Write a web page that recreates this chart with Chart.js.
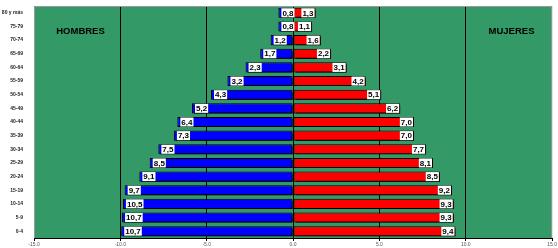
<!DOCTYPE html>
<html>
<head>
<meta charset="utf-8">
<script src="https://cdn.jsdelivr.net/npm/chart.js@4/dist/chart.umd.min.js"></script>
<style>
  html, body { margin: 0; padding: 0; background: #fff; }
  #wrap { width: 558px; height: 248px; }
</style>
</head>
<body>
<div id="wrap"><canvas id="piramide"></canvas></div>
<script>
// grupos de edad, de arriba abajo
const grupos = ['80 y más', '75-79', '70-74', '65-69', '60-64', '55-59', '50-54', '45-49', '40-44',
  '35-39', '30-34', '25-29', '20-24', '15-19', '10-14', '5-9', '0-4'];
// largo de las barras de hombres tal como se ven en el gráfico
const hombres = [0.85, 0.85, 1.3, 1.9, 2.75, 3.8, 4.75, 5.85, 6.7, 6.9, 7.8, 8.3, 8.9, 9.75, 9.85, 9.9, 9.95];
// rótulos impresos sobre las barras
const rotulosHombres = ['0,8', '0,8', '1,2', '1,7', '2,3', '3,2', '4,3', '5,2', '6,4', '7,3', '7,5', '8,5', '9,1', '9,7', '10,5', '10,7', '10,7'];
const mujeres = [1.3, 1.1, 1.6, 2.2, 3.1, 4.2, 5.1, 6.2, 7.0, 7.0, 7.7, 8.1, 8.5, 9.2, 9.3, 9.3, 9.4];
const rotulosMujeres = ['1,3', '1,1', '1,6', '2,2', '3,1', '4,2', '5,1', '6,2', '7,0', '7,0', '7,7', '8,1', '8,5', '9,2', '9,3', '9,3', '9,4'];
const ticksX = [-15, -10, -5, 0, 5, 10, 15];

const fondo = {
  id: 'fondo',
  beforeDraw(chart) {
    const { ctx, chartArea: a } = chart;
    ctx.save();
    ctx.fillStyle = '#339966';
    ctx.fillRect(a.left, a.top, a.right - a.left, a.bottom - a.top);
    ctx.restore();
  },
  afterDraw(chart) {
    const { ctx, chartArea: a } = chart;
    ctx.save();
    ctx.strokeStyle = '#999';
    ctx.lineWidth = 1;
    ctx.beginPath();
    ctx.moveTo(a.left + 0.5, a.bottom);
    ctx.lineTo(a.left + 0.5, a.top + 0.5);
    ctx.lineTo(a.right - 0.5, a.top + 0.5);
    ctx.lineTo(a.right - 0.5, a.bottom);
    ctx.stroke();
    ctx.strokeStyle = '#000';
    ctx.beginPath();
    ctx.moveTo(a.left, a.bottom + 0.5);
    ctx.lineTo(a.right, a.bottom + 0.5);
    ctx.stroke();
    ctx.fillStyle = '#000';
    ctx.font = 'bold 9.5px "Liberation Sans", Arial, sans-serif';
    ctx.textAlign = 'center';
    ctx.textBaseline = 'middle';
    ctx.fillText('HOMBRES', 80.5, 31);
    ctx.fillText('MUJERES', 511.5, 31);
    ctx.restore();
  }
};

const sombra = {
  id: 'sombra',
  beforeDatasetsDraw(chart) {
    const ctx = chart.ctx;
    ctx.save();
    ctx.shadowColor = '#000';
    ctx.shadowOffsetX = 2;
    ctx.shadowOffsetY = 2;
    ctx.shadowBlur = 0;
  },
  afterDatasetsDraw(chart) {
    chart.ctx.restore();
  }
};

const rotulos = {
  id: 'rotulos',
  afterDatasetsDraw(chart) {
    const ctx = chart.ctx;
    ctx.save();
    ctx.font = 'bold 8px "Liberation Sans", Arial, sans-serif';
    ctx.textBaseline = 'middle';
    ctx.textAlign = 'center';
    chart.data.datasets.forEach((ds, i) => {
      const meta = chart.getDatasetMeta(i);
      meta.data.forEach((el, j) => {
        const txt = ds.rotulos[j];
        const w = ctx.measureText(txt).width + 2;
        const h = 9;
        let x;
        if (ds.data[j] < 0) {
          x = el.x + 3;
        } else {
          x = el.x - 1 - w;
        }
        ctx.fillStyle = '#fff';
        ctx.fillRect(x, el.y - h / 2, w, h);
        ctx.fillStyle = '#000';
        ctx.fillText(txt, x + w / 2, el.y + 0.5);
      });
    });
    ctx.restore();
  }
};

new Chart(document.getElementById('piramide'), {
  type: 'bar',
  data: {
    labels: grupos,
    datasets: [
      {
        label: 'Hombres',
        data: hombres.map(v => -v),
        rotulos: rotulosHombres,
        backgroundColor: '#0000ff',
        borderColor: '#000',
        borderWidth: 1,
        borderSkipped: false
      },
      {
        label: 'Mujeres',
        data: mujeres,
        rotulos: rotulosMujeres,
        backgroundColor: '#ff0000',
        borderColor: '#000',
        borderWidth: 1,
        borderSkipped: false
      }
    ]
  },
  options: {
    indexAxis: 'y',
    responsive: true,
    maintainAspectRatio: false,
    animation: false,
    layout: { padding: { top: 6, right: 5, left: 0, bottom: 0 } },
    datasets: { bar: { barPercentage: 0.74, categoryPercentage: 1 } },
    plugins: { legend: { display: false }, tooltip: { enabled: false } },
    scales: {
      x: {
        stacked: true,
        min: -15,
        max: 15,
        afterBuildTicks(scale) { scale.ticks = ticksX.map(v => ({ value: v })); },
        afterFit(scale) { scale.height = 10; },
        border: { display: false },
        grid: {
          color: c => (Math.abs(c.tick.value) === 15 ? 'rgba(0,0,0,0)' : '#000'),
          tickColor: '#000',
          tickLength: 3,
          lineWidth: 1
        },
        ticks: {
          padding: 1,
          maxRotation: 0,
          color: '#555',
          font: { family: '"Liberation Sans", Arial, sans-serif', size: 5 },
          callback: v => v.toFixed(1)
        }
      },
      y: {
        stacked: true,
        afterFit(scale) { scale.width = 34; },
        border: { display: false },
        grid: { display: false },
        ticks: {
          padding: 3,
          color: '#222',
          font: { family: '"Liberation Sans", Arial, sans-serif', size: 5, weight: 'bold' }
        }
      }
    }
  },
  plugins: [fondo, sombra, rotulos]
});
</script>
</body>
</html>
